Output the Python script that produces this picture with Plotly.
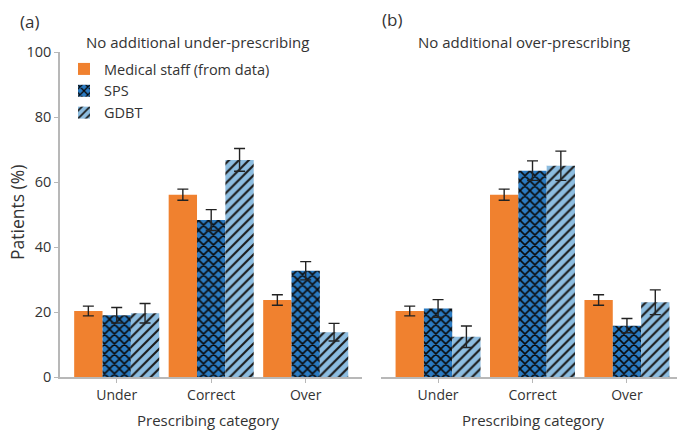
import plotly.graph_objects as go

categories = ["Under", "Correct", "Over"]

# Panel (a): no additional under-prescribing
a_staff = [20.3, 56.1, 23.7]
a_staff_err = [1.5, 1.7, 1.6]
a_sps = [19.0, 48.3, 32.7]
a_sps_err = [2.4, 3.2, 2.8]
a_gdbt = [19.6, 66.8, 13.8]
a_gdbt_err = [3.0, 3.5, 2.7]

# Panel (b): no additional over-prescribing
b_staff = [20.3, 56.1, 23.7]
b_staff_err = [1.5, 1.7, 1.6]
b_sps = [21.1, 63.5, 15.8]
b_sps_err = [2.7, 3.0, 2.2]
b_gdbt = [12.4, 65.0, 23.0]
b_gdbt_err = [3.3, 4.5, 3.8]

y_ticks = [0, 20, 40, 60, 80, 100]

ORANGE = "#f0812f"
SPS_BG = "#2b7bc2"
GDBT_BG = "#8dbde0"
TEXT = "#333333"
AXIS = "#b8b8b8"
FONT = "Open Sans"

W, H = 677, 430


def px_x(v):
    return v / W


def px_y(v):
    return 1 - v / H


def err(arr):
    return dict(type="data", array=arr, color="#222222", thickness=1.4, width=5.5)


fig = go.Figure()

series = [
    ("Medical staff (from data)", a_staff, a_staff_err, b_staff, b_staff_err,
     dict(color=ORANGE)),
    ("SPS", a_sps, a_sps_err, b_sps, b_sps_err,
     dict(color=SPS_BG, pattern=dict(shape="x", fgcolor="#0a0a0a", bgcolor=SPS_BG,
                                      size=7, solidity=0.4, fillmode="replace"))),
    ("GDBT", a_gdbt, a_gdbt_err, b_gdbt, b_gdbt_err,
     dict(color=GDBT_BG, pattern=dict(shape="/", fgcolor="#1a1a1a", bgcolor=GDBT_BG,
                                       size=7, solidity=0.3, fillmode="replace"))),
]

for name, ya, ea, yb, eb, mk in series:
    fig.add_trace(go.Bar(x=categories, y=ya, error_y=err(ea), name=name,
                         marker=dict(line=dict(width=0), **mk),
                         xaxis="x", yaxis="y", showlegend=True, legendgroup=name))
    fig.add_trace(go.Bar(x=categories, y=yb, error_y=err(eb), name=name,
                         marker=dict(line=dict(width=0), **mk),
                         xaxis="x2", yaxis="y2", showlegend=False, legendgroup=name))

y0, y1 = px_y(377), px_y(52)

xcommon = dict(showline=True, linecolor=AXIS, linewidth=1.5, ticks="outside",
               ticklen=4, tickcolor=AXIS, showgrid=False, zeroline=False,
               automargin=False,
               tickfont=dict(family=FONT, size=14, color=TEXT), fixedrange=True)

fig.update_layout(
    width=W, height=H,
    margin=dict(l=0, r=0, t=0, b=0, autoexpand=False),
    paper_bgcolor="white", plot_bgcolor="white",
    barmode="group", bargap=0.1, bargroupgap=0,
    font=dict(family=FONT, color=TEXT),
    xaxis=dict(domain=[px_x(60), px_x(362.4)], range=[-0.6, 2.6], anchor="y", **xcommon),
    xaxis2=dict(domain=[px_x(381.4), 1.0], range=[-0.6, 2.53], anchor="y2", **xcommon),
    yaxis=dict(domain=[y0, y1], range=[0, 100], tickvals=y_ticks, showline=True,
               linecolor=AXIS, linewidth=1.5, ticks="outside", ticklen=4, tickcolor=AXIS,
               showgrid=False, zeroline=False, anchor="x", automargin=False,
               tickfont=dict(family=FONT, size=14.5, color=TEXT)),
    yaxis2=dict(domain=[y0, y1], range=[0, 100], showline=False, showticklabels=False,
                ticks="", showgrid=False, zeroline=False, anchor="x2", automargin=False),
    legend=dict(x=px_x(64), y=px_y(53), xanchor="left", yanchor="top",
                bgcolor="rgba(0,0,0,0)", font=dict(family=FONT, size=14.5, color=TEXT),
                tracegroupgap=0, itemwidth=30),
)

annotations = [
    dict(text="(a)", x=px_x(29), y=px_y(21), font=dict(size=17)),
    dict(text="(b)", x=px_x(392), y=px_y(20), font=dict(size=17)),
    dict(text="No additional under-prescribing", x=px_x(197), y=px_y(42), font=dict(size=15)),
    dict(text="No additional over-prescribing", x=px_x(524), y=px_y(42), font=dict(size=15)),
    dict(text="Prescribing category", x=px_x(208), y=px_y(420), font=dict(size=15)),
    dict(text="Prescribing category", x=px_x(533), y=px_y(420), font=dict(size=15)),
    dict(text="Patients (%)", x=px_x(17), y=px_y(213), textangle=-90, font=dict(size=17.5)),
]
for a in annotations:
    a.update(xref="paper", yref="paper", showarrow=False, xanchor="center", yanchor="middle")
    a["font"].update(family=FONT, color=TEXT)
    fig.add_annotation(**a)

fig.write_html("out.html")
